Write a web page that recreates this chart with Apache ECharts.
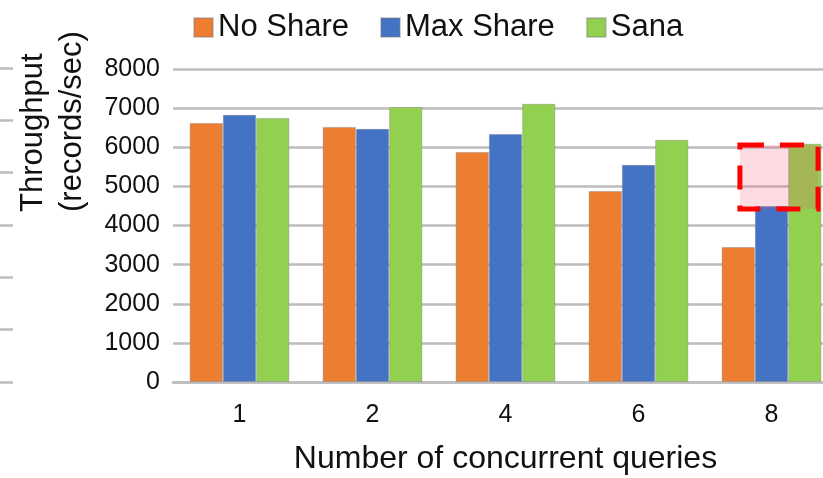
<!DOCTYPE html>
<html>
<head>
<meta charset="utf-8">
<script src="https://cdn.jsdelivr.net/npm/echarts@6/dist/echarts.min.js"></script>
<style>
  html, body { margin: 0; padding: 0; background: #fff; }
  #chart { width: 823px; height: 478px; }
</style>
</head>
<body>
<div id="chart"></div>
<script>
// Throughput per number of concurrent queries
const categories = ['1', '2', '4', '6', '8'];
const seriesNames = ['No Share', 'Max Share', 'Sana'];
const noShare = [6620, 6520, 5880, 4880, 3450];
const maxShare = [6830, 6470, 6340, 5550, 4500];
const sana = [6750, 7030, 7110, 6190, 6090];
const yTicks = { min: 0, max: 8000, interval: 1000 };
// highlighted region on the last group (value range)
const highlightRange = [4420, 6060];

const colors = ['#ED7D31', '#4472C4', '#92D050'];
const FONT = '"Liberation Sans", Arial, sans-serif';
const gridColor = '#bdbdbd';

const chart = echarts.init(document.getElementById('chart'));

const option = {
  animation: false,
  color: colors,
  textStyle: { fontFamily: FONT },
  legend: {
    top: 7,
    left: 188,
    itemWidth: 19,
    itemHeight: 19,
    itemGap: 31,
    icon: 'rect',
    textStyle: { fontSize: 31, color: '#111', fontFamily: FONT },
    data: seriesNames
  },
  grid: [
    { left: 173, width: 665, top: 69, height: 313, containLabel: false, outerBoundsMode: 'none' },
    // fragment of a neighbouring axis at the far left edge
    { left: -40, width: 53, top: 68, height: 314, containLabel: false, outerBoundsMode: 'none' }
  ],
  xAxis: [
    {
      type: 'category',
      gridIndex: 0,
      data: categories,
      axisLine: { lineStyle: { color: gridColor, width: 2.5 } },
      axisTick: { show: false },
      axisLabel: { fontSize: 25, color: '#111', margin: 21, fontFamily: FONT },
      name: 'Number of concurrent queries',
      nameLocation: 'middle',
      nameGap: 61,
      nameTextStyle: { fontSize: 32, color: '#111', fontFamily: FONT }
    },
    { type: 'value', gridIndex: 1, show: false }
  ],
  yAxis: [
    {
      type: 'value',
      gridIndex: 0,
      min: yTicks.min,
      max: yTicks.max,
      interval: yTicks.interval,
      axisLine: { show: false },
      axisTick: { show: false },
      axisLabel: { fontSize: 25, color: '#111', margin: 13, fontFamily: FONT, formatter: v => String(v) },
      splitLine: { lineStyle: { color: gridColor, width: 2.5 } }
    },
    {
      type: 'value',
      gridIndex: 1,
      min: 0,
      max: 6,
      interval: 1,
      axisLine: { show: false },
      axisTick: { show: false },
      axisLabel: { show: false },
      splitLine: { lineStyle: { color: gridColor, width: 2.5 } }
    }
  ],
  series: [
    { name: seriesNames[0], type: 'bar', data: noShare, barCategoryGap: '25%', barGap: '0%' },
    { name: seriesNames[1], type: 'bar', data: maxShare, barCategoryGap: '25%', barGap: '0%' },
    { name: seriesNames[2], type: 'bar', data: sana, barCategoryGap: '25%', barGap: '0%' }
  ].map(s => Object.assign(s, {
    xAxisIndex: 0, yAxisIndex: 0,
    itemStyle: { borderColor: 'rgba(120,120,120,0.35)', borderWidth: 1 }
  }))
};

chart.setOption(option);

// Axis title and the dashed highlight box, placed from the axis scales
function placeOverlays() {
  const last = categories[categories.length - 1];
  const cx = chart.convertToPixel({ xAxisIndex: 0 }, last);
  const c0 = chart.convertToPixel({ xAxisIndex: 0 }, categories[0]);
  const c1 = chart.convertToPixel({ xAxisIndex: 0 }, categories[1]);
  const band = c1 - c0;
  const barW = band * 0.75 / 3;
  const yTop = chart.convertToPixel({ yAxisIndex: 0 }, highlightRange[1]);
  const yBot = chart.convertToPixel({ yAxisIndex: 0 }, highlightRange[0]);
  const x0 = cx - barW * 0.95;
  const x1 = cx + barW * 1.4;

  const titleStyle = {
    font: '31px ' + FONT,
    fill: '#111',
    align: 'left',
    verticalAlign: 'middle'
  };

  chart.setOption({
    graphic: [
      {
        type: 'text',
        x: 33, y: 212,
        rotation: Math.PI / 2,
        style: Object.assign({ text: 'Throughput' }, titleStyle)
      },
      {
        type: 'text',
        x: 72, y: 212,
        rotation: Math.PI / 2,
        style: Object.assign({ text: '(records/sec)' }, titleStyle)
      },
      {
        type: 'rect',
        z: 100,
        shape: { x: x0, y: yTop, width: x1 - x0, height: yBot - yTop },
        style: {
          fill: 'rgba(240,80,110,0.2)',
          stroke: '#ff0000',
          lineWidth: 5,
          lineDash: [24, 16]
        }
      }
    ]
  });
}
placeOverlays();
</script>
</body>
</html>
